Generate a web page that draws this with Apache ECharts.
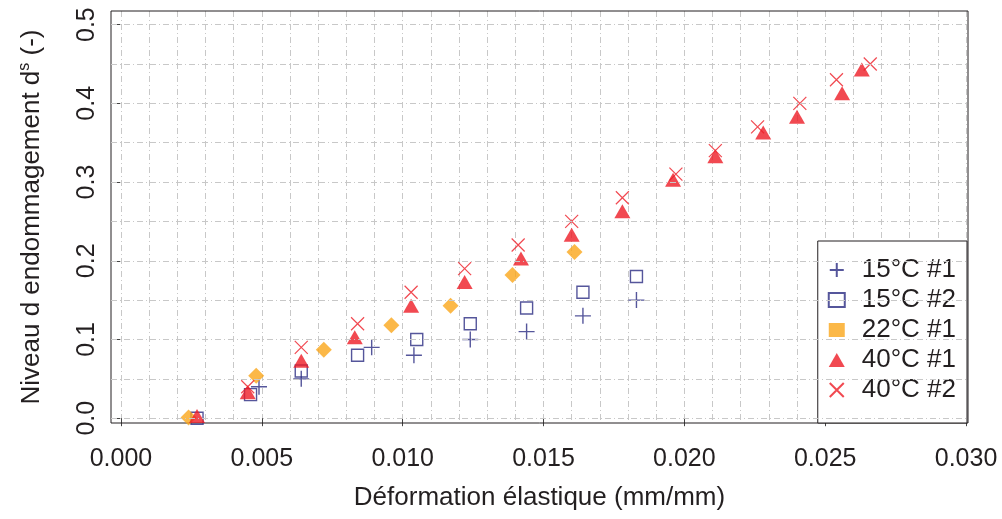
<!DOCTYPE html>
<html>
<head>
<meta charset="utf-8">
<script src="https://cdn.jsdelivr.net/npm/echarts@6/dist/echarts.min.js"></script>
<style>
html,body{margin:0;padding:0;background:#fff;}
#chart{width:1002px;height:519px;}
</style>
</head>
<body>
<div id="chart"></div>
<script>
// ---- data ----
var seriesNames = ['15°C #1', '15°C #2', '22°C #1', '40°C #1', '40°C #2'];

var t15a_x = [0.0049, 0.0064, 0.0089, 0.0104, 0.0124, 0.0144, 0.0164, 0.0183];
var t15a_y = [0.04, 0.05, 0.09, 0.08, 0.10, 0.11, 0.13, 0.15];

var t15b_x = [0.0027, 0.0046, 0.0064, 0.0084, 0.0105, 0.0124, 0.0144, 0.0164, 0.0183];
var t15b_y = [0.00, 0.03, 0.06, 0.08, 0.10, 0.12, 0.14, 0.16, 0.18];

var t22a_x = [0.0024, 0.0048, 0.0072, 0.0096, 0.0117, 0.0139, 0.0161];
var t22a_y = [0.001, 0.054, 0.087, 0.118, 0.143, 0.182, 0.211];

var t40a_x = [0.0027, 0.0045, 0.0064, 0.0083, 0.0103, 0.0122, 0.0142, 0.0160, 0.0178, 0.0196, 0.0211, 0.0228, 0.0240, 0.0256, 0.0263];
var t40a_y = [0.00, 0.03, 0.07, 0.10, 0.14, 0.17, 0.20, 0.23, 0.26, 0.30, 0.33, 0.36, 0.38, 0.41, 0.44];

var t40b_x = [0.0045, 0.0064, 0.0084, 0.0103, 0.0122, 0.0141, 0.0160, 0.0178, 0.0197, 0.0211, 0.0226, 0.0241, 0.0254, 0.0266];
var t40b_y = [0.04, 0.09, 0.12, 0.16, 0.19, 0.22, 0.25, 0.28, 0.31, 0.34, 0.37, 0.40, 0.43, 0.45];

var xTicks = [0, 0.005, 0.010, 0.015, 0.020, 0.025, 0.030];
var yTicks = [0, 0.1, 0.2, 0.3, 0.4, 0.5];
var yGrid = [];
for (var j = 0; j <= 10; j++) yGrid.push(j * 0.05);

var XMIN = -0.000354, XMAX = 0.03007;
var YMIN = -0.0061, YMAX = 0.5173;

function pairs(xs, ys) { return xs.map(function (x, k) { return [x, ys[k]]; }); }

var FONT = '"Liberation Sans", Arial, Helvetica, sans-serif';
var NAVY = '#2B2C82';
var RED = '#EE1C25';
var ORANGE = '#FAA61A';
var TXT = '#231F20';

var gridLineStyle = { color: '#C8C8C8', width: 1, type: [6, 3, 1, 3] };

var chart = echarts.init(document.getElementById('chart'), null, { renderer: 'canvas' });

var option = {
  animation: false,
  backgroundColor: '#fff',
  textStyle: { fontFamily: FONT },
  grid: [{
    left: 111, right: 34, top: 11, bottom: 96,
    show: true, borderColor: TXT, borderWidth: 1, backgroundColor: 'transparent', z: 2
  }, {
    // helper grid whose x range is exactly 0..0.030, used for the vertical dash-dot grid lines
    left: 121, right: 36, top: 11, bottom: 96, show: false
  }],
  xAxis: [{
    type: 'value', gridIndex: 0,
    min: XMIN, max: XMAX,
    axisLine: { show: false },
    splitLine: { show: false },
    axisTick: { show: true, length: 8, customValues: xTicks, lineStyle: { color: '#444' } },
    axisLabel: {
      customValues: xTicks, margin: 24, fontSize: 25, color: TXT, fontFamily: FONT,
      formatter: function (v) { return v.toFixed(3); }
    },
    name: 'Déformation élastique (mm/mm)',
    nameLocation: 'middle', nameGap: 62,
    nameTextStyle: { fontSize: 26, color: TXT, fontFamily: FONT }
  }, {
    type: 'value', gridIndex: 1,
    min: 0, max: 30, interval: 1,
    axisLine: { show: false }, axisTick: { show: false }, axisLabel: { show: false },
    splitLine: { show: true, showMinLine: true, showMaxLine: true, lineStyle: gridLineStyle }
  }],
  yAxis: [{
    type: 'value', gridIndex: 0,
    min: YMIN, max: YMAX,
    axisLine: { show: false },
    splitLine: { show: false },
    axisTick: { show: true, length: 10, customValues: yTicks, lineStyle: { color: '#444' } },
    axisLabel: {
      customValues: yTicks, margin: 11, fontSize: 25, color: TXT, fontFamily: FONT, rotate: 90,
      formatter: function (v) { return v.toFixed(1); }
    },
    name: '{a|Niveau d endommagement d}{s|s}{a| (-)}',
    nameLocation: 'middle', nameGap: 64, nameRotate: 90,
    nameTextStyle: {
      color: TXT, fontFamily: FONT,
      rich: {
        a: { fontSize: 26, color: TXT, fontFamily: FONT, lineHeight: 30 },
        s: { fontSize: 16, color: TXT, fontFamily: FONT, verticalAlign: 'top', lineHeight: 17 }
      }
    }
  }, {
    type: 'value', gridIndex: 1, min: 0, max: 1, show: false,
    splitLine: { show: false }
  }],
  legend: {
    orient: 'vertical',
    right: 35, bottom: 96,
    padding: [16, 11, 20, 10],
    itemGap: 4,
    itemWidth: 16, itemHeight: 14,
    borderColor: TXT, borderWidth: 1, backgroundColor: '#fff',
    textStyle: { fontSize: 26, lineHeight: 26, color: TXT, fontFamily: FONT, padding: [0, 0, 0, 12] },
    data: [
      { name: seriesNames[0] },
      { name: seriesNames[1] },
      { name: seriesNames[2], icon: 'rect' },
      { name: seriesNames[3] },
      { name: seriesNames[4] }
    ]
  },
  series: [
    {
      type: 'scatter', name: '_gridy', data: [], silent: true, z: 1,
      markLine: {
        silent: true, symbol: ['none', 'none'], label: { show: false },
        lineStyle: gridLineStyle, animation: false,
        data: yGrid.map(function (v) { return { yAxis: v }; })
      }
    },
    {
      type: 'scatter', name: seriesNames[0], z: 3,
      data: pairs(t15a_x, t15a_y),
      symbol: 'path://M8,0L8,16M0,8L16,8', symbolSize: 16,
      itemStyle: { color: 'transparent', borderColor: NAVY, borderWidth: 1.4 }
    },
    {
      type: 'scatter', name: seriesNames[1], z: 3,
      data: pairs(t15b_x, t15b_y),
      symbol: 'rect', symbolSize: 12,
      itemStyle: { color: 'transparent', borderColor: NAVY, borderWidth: 1.4 }
    },
    {
      type: 'scatter', name: seriesNames[2], z: 3,
      data: pairs(t22a_x, t22a_y),
      symbol: 'diamond', symbolSize: [16, 16],
      itemStyle: { color: ORANGE }
    },
    {
      type: 'scatter', name: seriesNames[3], z: 3,
      data: pairs(t40a_x, t40a_y),
      symbol: 'triangle', symbolSize: [16, 14], symbolOffset: [0, -2.3],
      itemStyle: { color: RED }
    },
    {
      type: 'scatter', name: seriesNames[4], z: 3,
      data: pairs(t40b_x, t40b_y),
      symbol: 'path://M0,0L12,12M0,12L12,0', symbolSize: 13,
      itemStyle: { color: 'transparent', borderColor: RED, borderWidth: 1.2 }
    }
  ]
};

chart.setOption(option);
</script>
</body>
</html>
